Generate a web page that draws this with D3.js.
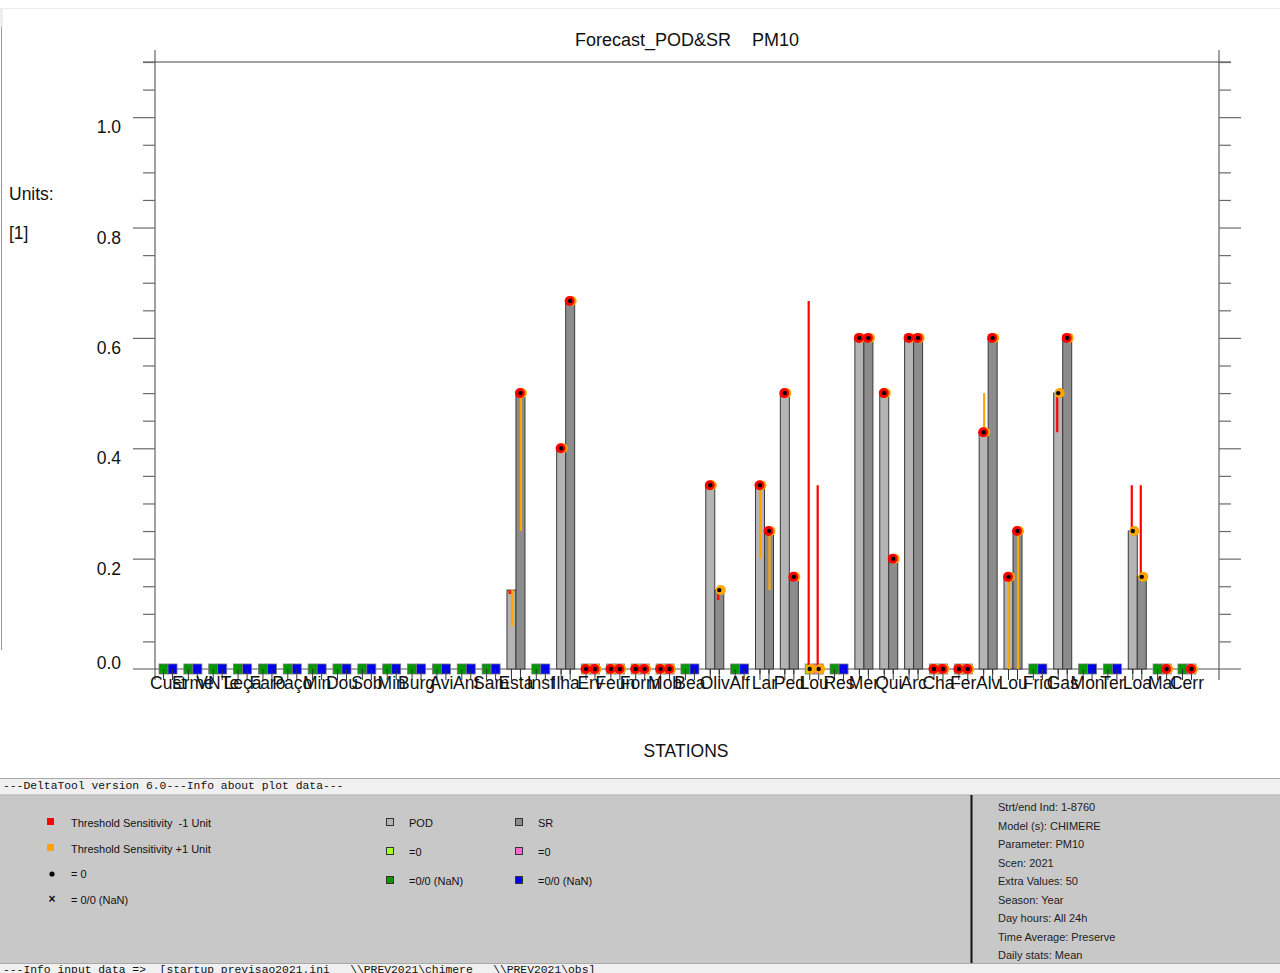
<!DOCTYPE html>
<html><head><meta charset="utf-8">
<script src="https://cdn.jsdelivr.net/npm/d3@7"></script>
<style>
body{margin:0;background:#fff;}
svg{display:block;font-family:"Liberation Sans",Arial,sans-serif;}
text{white-space:pre;}
</style></head>
<body><svg id="c" width="1280" height="973"></svg>
<script>
const stations = ["Cust","Erme","VNTe","Leça","Faro","Paço","Min","Dou","Sob","Min","Burg","Avi","Ant","Sam",
  "Esta","Insf","Ilha","Erv","Feun","Form","Mob","Bea","Oliv","Alf","Lar","Ped","Lou","Res",
  "Mer","Qui","Arc","Cha","Fer","Alv","Lou","Frid","Gas","Mon","Ter","Loa","Mal","Cerr"];
const N = null;
const pod      = [N,N,N,N,N,N,N,N,N,N,N,N,N,N, 0.143,N,0.4,0,0,0,0,N,0.333,N,0.333,0.5,0,N, 0.6,0.5,0.6,0,0,0.429,0.167,N,0.5,N,N,0.25,N,N];
const sr       = [N,N,N,N,N,N,N,N,N,N,N,N,N,N, 0.5,N,0.667,0,0,0,0,N,0.143,N,0.25,0.167,0,N, 0.6,0.2,0.6,0,0,0.6,0.25,N,0.6,N,N,0.167,0,0];
const podMinus = [N,N,N,N,N,N,N,N,N,N,N,N,N,N, 0.143,N,0.4,0,0,0,0,N,0.333,N,0.333,0.5,0.667,N, 0.6,0.5,0.6,0,0,0.429,0.167,N,0.429,N,N,0.333,N,N];
const podPlus  = [N,N,N,N,N,N,N,N,N,N,N,N,N,N, 0.077,N,0.4,0,0,0,0,N,0.333,N,0.2,0.5,0,N, 0.6,0.5,0.6,0,0,0.5,0,N,0.5,N,N,0.25,N,N];
const srMinus  = [N,N,N,N,N,N,N,N,N,N,N,N,N,N, 0.5,N,0.667,0,0,0,0,N,0.125,N,0.25,0.167,0.333,N, 0.6,0.2,0.6,0,0,0.6,0.25,N,0.6,N,N,0.333,0,0];
const srPlus   = [N,N,N,N,N,N,N,N,N,N,N,N,N,N, 0.25,N,0.667,0,0,0,0,N,0.143,N,0.143,0.167,0,N, 0.6,0.2,0.6,0,0,0.6,0,N,0.6,N,N,0.167,0,0];
const podDotShown = stations.map((s,i)=> i!==14);
const yMajor = [0,0.2,0.4,0.6,0.8,1.0];
const yMinor = [0.05,0.1,0.15,0.25,0.3,0.35,0.45,0.5,0.55,0.65,0.7,0.75,0.85,0.9,0.95,1.05,1.1];
const yLabels = ["0.0","0.2","0.4","0.6","0.8","1.0"];

const infoLines = ["Strt/end Ind: 1-8760","Model (s): CHIMERE","Parameter: PM10","Scen: 2021","Extra Values: 50",
  "Season: Year","Day hours: All 24h","Time Average: Preserve","Daily stats: Mean"];

const svg = d3.select("#c");
const y = d3.scaleLinear().domain([0,1.1]).range([669,62]);
const x = d3.scaleBand().domain(d3.range(stations.length)).range([155.6,1199.4]).paddingInner(0).paddingOuter(0);
const bw = 9;
const podX = i => x(i) + x.bandwidth()/2 - bw;
const srX = i => x(i) + x.bandwidth()/2;

// frame decorations
svg.append("line").attr("x1",0).attr("x2",1280).attr("y1",8.5).attr("y2",8.5).attr("stroke","#ececec");
svg.append("rect").attr("x",0).attr("y",9).attr("width",3).attr("height",18).attr("fill","#eeeeee");
svg.append("line").attr("x1",1.5).attr("x2",1.5).attr("y1",27).attr("y2",650).attr("stroke","#9a9a9a");

// axes
const gAx = svg.append("g");
gAx.append("line").attr("x1",155).attr("x2",155).attr("y1",50).attr("y2",680).attr("stroke","#808080").attr("stroke-width",1.5);
gAx.append("line").attr("x1",1219).attr("x2",1219).attr("y1",50).attr("y2",680).attr("stroke","#808080").attr("stroke-width",1.5);
gAx.append("line").attr("x1",143).attr("x2",1231).attr("y1",62).attr("y2",62).attr("stroke","#444").attr("stroke-width",1);

function yAxis(side, vals, size){
  const ax = (side==="left"? d3.axisLeft(y) : d3.axisRight(y)).tickValues(vals).tickSize(size).tickFormat("");
  const g = gAx.append("g").attr("transform",`translate(${side==="left"?155:1219},0)`).call(ax);
  g.select(".domain").remove();
  g.selectAll(".tick line").attr("stroke","#6a6a6a").attr("stroke-width",1.2);
}
yAxis("left", yMajor.slice(1), 22); yAxis("left", yMinor, 12);
yAxis("right", yMajor.slice(1), 22); yAxis("right", yMinor, 12);

// baseline
gAx.append("line").attr("x1",133).attr("x2",1241).attr("y1",y(0)).attr("y2",y(0)).attr("stroke","#555").attr("stroke-width",1);

// y labels
svg.append("g").selectAll("text").data(yMajor).join("text")
  .attr("x",121).attr("y",(d,i)=> i===0 ? y(d)-0.5 : y(d)+16)
  .attr("text-anchor","end").attr("font-size",17.5).attr("fill","#111")
  .text((d,i)=>yLabels[i]);

// bar center ticks below baseline
const ticks = svg.append("g");
stations.forEach((s,i)=>{
  [podX(i)+bw/2, srX(i)+bw/2].forEach(cx=>{
    ticks.append("line").attr("x1",cx).attr("x2",cx).attr("y1",y(0)).attr("y2",y(0)+11).attr("stroke","#333").attr("stroke-width",1);
  });
});

// bars
const bars = svg.append("g");
bars.selectAll("rect.pod").data(d3.range(stations.length).filter(i=>pod[i]!==null && pod[i]>0)).join("rect")
  .attr("x",i=>podX(i)).attr("y",i=>y(pod[i])).attr("width",bw).attr("height",i=>y(0)-y(pod[i]))
  .attr("fill","#b4b4b4").attr("stroke","#3a3a3a").attr("stroke-width",1);
bars.selectAll("rect.sr").data(d3.range(stations.length).filter(i=>sr[i]!==null && sr[i]>0)).join("rect")
  .attr("x",i=>srX(i)).attr("y",i=>y(sr[i])).attr("width",bw).attr("height",i=>y(0)-y(sr[i]))
  .attr("fill","#8c8c8c").attr("stroke","#3a3a3a").attr("stroke-width",1);

// squares for NaN / zero
const sq = svg.append("g");
function square(xx, col){
  sq.append("rect").attr("x",xx).attr("y",y(0)-5).attr("width",bw).attr("height",10)
    .attr("fill",col).attr("stroke","#777").attr("stroke-width",0.8);
}
stations.forEach((s,i)=>{
  if(pod[i]===null) square(podX(i),"#009a00"); else if(pod[i]===0) square(podX(i),"#b6e000");
  if(sr[i]===null) square(srX(i),"#0000f0"); else if(sr[i]===0) square(srX(i),"#ff70c8");
});
stations.forEach((s,i)=>{
  [podX(i)+bw/2, srX(i)+bw/2].forEach(cx=>{
    sq.append("line").attr("x1",cx).attr("x2",cx).attr("y1",y(0)).attr("y2",y(0)+5).attr("stroke","#333").attr("stroke-width",1);
  });
});

// sensitivity lines
const sens = svg.append("g");
function sline(cx, v, w, col){
  if(v===null || w===null || Math.abs(v-w)<1e-6) return;
  sens.append("line").attr("x1",cx).attr("x2",cx).attr("y1",y(v)).attr("y2",y(w)).attr("stroke",col).attr("stroke-width",2.2);
}
stations.forEach((s,i)=>{
  const pc = podX(i)+bw/2, sc = srX(i)+bw/2;
  sline(pc+0.5, pod[i], podPlus[i], "#ffa500");
  sline(sc+0.5, sr[i], srPlus[i], "#ffa500");
  sline(pc-1, pod[i], podMinus[i], "#ff0000");
  sline(sc-1, sr[i], srMinus[i], "#ff0000");
});

// markers
const mk = svg.append("g");
function marker(cx, v, minus, shown){
  if(v===null) return;
  const cy = y(v);
  if(!shown){
    mk.append("rect").attr("x",cx-3).attr("y",cy).attr("width",3).attr("height",4).attr("fill","#ff2000");
    mk.append("rect").attr("x",cx).attr("y",cy).attr("width",2).attr("height",4).attr("fill","#ffa500");
    return;
  }
  mk.append("circle").attr("cx",cx+1.5).attr("cy",cy).attr("r",5).attr("fill","#ffa500");
  if(minus===null || Math.abs(minus-v)<1e-6)
    mk.append("circle").attr("cx",cx-0.5).attr("cy",cy).attr("r",5).attr("fill","#ff0000");
  mk.append("circle").attr("cx",cx).attr("cy",cy).attr("r",2.2).attr("fill","#000");
}
stations.forEach((s,i)=>{
  marker(podX(i)+bw/2, pod[i], podMinus[i], podDotShown[i]);
  marker(srX(i)+bw/2, sr[i], srMinus[i], true);
});

// x labels
const xa = svg.append("g").attr("transform",`translate(0,${y(0)})`)
  .call(d3.axisBottom(x).tickSize(0).tickPadding(7.5).tickFormat(i=>stations[i]));
xa.select(".domain").remove();
xa.selectAll("text").attr("font-size",17.5).attr("font-family","'Liberation Sans',Arial,sans-serif").attr("fill","#111");

// titles
svg.append("text").attr("x",575).attr("y",46).attr("font-size",18).attr("fill","#111").text("Forecast_POD&SR");
svg.append("text").attr("x",752).attr("y",46).attr("font-size",18).attr("fill","#111").text("PM10");
svg.append("text").attr("x",686).attr("y",757).attr("text-anchor","middle").attr("font-size",17.5).attr("fill","#111").text("STATIONS");
svg.append("text").attr("x",9).attr("y",200).attr("font-size",17.5).attr("fill","#111").text("Units:");
svg.append("text").attr("x",9).attr("y",239).attr("font-size",17.5).attr("fill","#111").text("[1]");

// bottom panel
svg.append("line").attr("x1",0).attr("x2",1280).attr("y1",778.5).attr("y2",778.5).attr("stroke","#a8a8a8");
svg.append("rect").attr("x",0).attr("y",779).attr("width",1280).attr("height",16).attr("fill","#f0f0f0");
svg.append("text").attr("x",3).attr("y",789).attr("font-family","'Liberation Mono','Courier New',monospace").attr("font-size",11.35).attr("fill","#111")
  .text("---DeltaTool version 6.0---Info about plot data---");
svg.append("rect").attr("x",0).attr("y",795).attr("width",1280).attr("height",168).attr("fill","#c8c8c8");
svg.append("line").attr("x1",0).attr("x2",1280).attr("y1",795).attr("y2",795).attr("stroke","#b0b0b0");
svg.append("line").attr("x1",971.5).attr("x2",971.5).attr("y1",795).attr("y2",963).attr("stroke","#111").attr("stroke-width",2);
svg.append("rect").attr("x",0).attr("y",963).attr("width",1280).attr("height",10).attr("fill","#f0f0f0");
svg.append("line").attr("x1",0).attr("x2",1280).attr("y1",963.5).attr("y2",963.5).attr("stroke","#a8a8a8");
svg.append("text").attr("x",3).attr("y",973).attr("font-family","'Liberation Mono','Courier New',monospace").attr("font-size",11.35).attr("fill","#111")
  .text("---Info input data =>  [startup_previsao2021.ini   \\\\PREV2021\\chimere   \\\\PREV2021\\obs]");

const leg = svg.append("g").attr("font-size",11).attr("fill","#111");
leg.append("rect").attr("x",47).attr("y",818).attr("width",7).attr("height",7).attr("fill","#ff0000");
leg.append("text").attr("x",71).attr("y",827).text("Threshold Sensitivity  -1 Unit");
leg.append("rect").attr("x",47).attr("y",844).attr("width",7).attr("height",7).attr("fill","#ffa500");
leg.append("text").attr("x",71).attr("y",853).text("Threshold Sensitivity +1 Unit");
leg.append("circle").attr("cx",52).attr("cy",874).attr("r",2.6).attr("fill","#000");
leg.append("text").attr("x",71).attr("y",878).text("= 0");
leg.append("text").attr("x",52).attr("y",903).attr("text-anchor","middle").attr("font-size",12).attr("font-weight","bold").text("×");
leg.append("text").attr("x",71).attr("y",904).text("= 0/0 (NaN)");
const boxes = [[386,818,"#b4b4b4","POD"],[515,818,"#8c8c8c","SR"],[386,847,"#a6ff20","=0"],[515,847,"#ff66cc","=0"],
  [386,876,"#009a00","=0/0 (NaN)"],[515,876,"#0000ff","=0/0 (NaN)"]];
boxes.forEach(b=>{
  leg.append("rect").attr("x",b[0]+0.5).attr("y",b[1]+0.5).attr("width",7).attr("height",7).attr("fill",b[2]).attr("stroke","#333").attr("stroke-width",1);
  leg.append("text").attr("x",b[0]+23).attr("y",b[1]+9).text(b[3]);
});
svg.append("g").attr("font-size",11).attr("fill","#222").selectAll("text").data(infoLines).join("text")
  .attr("x",998).attr("y",(d,i)=>811+i*18.5).text(d=>d);
</script></body></html>
